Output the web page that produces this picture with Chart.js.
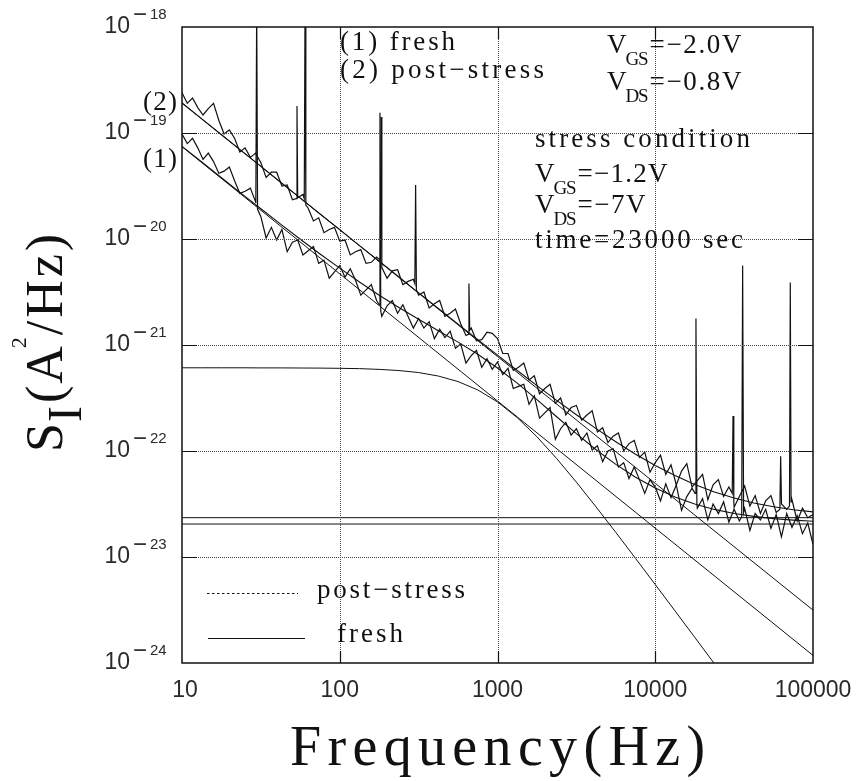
<!DOCTYPE html>
<html><head><meta charset="utf-8">
<script src="https://cdn.jsdelivr.net/npm/chart.js@4.4.1/dist/chart.umd.min.js"></script>
<style>html,body{margin:0;padding:0;background:#fff}</style>
</head><body>
<canvas id="c" width="862" height="781" style="display:block;width:862px;height:781px"></canvas>
<script>
// ---------------- data (log10 values) ----------------
const xTickValues = [10, 100, 1000, 10000, 100000];
const xTickLabels = ['10', '100', '1000', '10000', '100000'];
const yTickExps = [-18, -19, -20, -21, -22, -23, -24];

// measured spectra: log10(S_I) on a log-frequency grid of 30 points per decade from 10 Hz
const gridLogFStart = 1, gridPerDecade = 30;
const postLog = [
 -18.62,-18.72,-18.67,-18.76,-18.83,-18.77,-18.72,-18.88,-19.01,-18.97,
 -19.05,-19.18,-19.14,-19.23,-19.19,-19.28,-19.42,-19.37,-19.37,-19.50,
 -19.49,-19.63,-19.60,-19.58,-19.71,-19.83,-19.80,-19.94,-19.91,-19.89,
 -20.02,-20.01,-20.15,-20.12,-20.10,-20.23,-20.22,-20.17,-20.28,-20.37,
 -20.30,-20.29,-20.43,-20.40,-20.38,-20.53,-20.50,-20.65,-20.61,-20.58,
 -20.73,-20.70,-20.66,-20.80,-20.91,-20.84,-20.96,-20.95,-20.88,-20.89,
 -20.94,-21.08,-21.08,-21.24,-21.21,-21.17,-21.33,-21.29,-21.46,-21.41,
 -21.37,-21.55,-21.50,-21.66,-21.59,-21.57,-21.71,-21.66,-21.62,-21.82,
 -21.78,-21.92,-21.86,-21.83,-22.00,-21.93,-21.90,-22.06,-22.01,-22.20,
 -22.11,-22.04,-22.22,-22.13,-22.32,-22.19,-22.12,-22.34,-22.28,-22.22,
 -22.46,-22.32,-22.27,-22.43,-22.34,-22.53,-22.43,-22.33,-22.52,-22.42,
 -22.59,-22.47,-22.42,-22.58,-22.47,-22.55,-22.46,-22.66,-22.54,-22.63,
 -22.60];
const freshLog = [
 -19.01,-19.10,-19.05,-19.14,-19.25,-19.19,-19.27,-19.38,-19.36,-19.32,
 -19.45,-19.57,-19.55,-19.52,-19.65,-19.79,-19.99,-19.89,-20.01,-19.91,
 -20.12,-20.03,-20.01,-20.15,-20.11,-20.07,-20.23,-20.20,-20.37,-20.31,
 -20.25,-20.36,-20.28,-20.39,-20.53,-20.48,-20.43,-20.58,-20.73,-20.63,
 -20.58,-20.70,-20.62,-20.73,-20.84,-20.75,-20.84,-20.78,-20.94,-20.85,
 -20.93,-20.87,-21.03,-20.99,-21.17,-21.10,-21.05,-21.21,-21.13,-21.23,
 -21.16,-21.28,-21.22,-21.41,-21.39,-21.37,-21.56,-21.48,-21.69,-21.64,
 -21.59,-21.89,-21.79,-21.73,-21.85,-21.79,-21.90,-21.83,-21.99,-21.95,
 -22.10,-22.00,-21.98,-22.15,-22.11,-22.26,-22.15,-22.27,-22.40,-22.27,
 -22.34,-22.47,-22.31,-22.44,-22.32,-22.56,-22.43,-22.35,-22.54,-22.45,
 -22.65,-22.50,-22.59,-22.48,-22.67,-22.55,-22.66,-22.54,-22.75,-22.59,
 -22.65,-22.55,-22.73,-22.60,-22.81,-22.59,-22.72,-22.61,-22.78,-22.68,
 -22.88];
// narrow interference spikes: [log10 f, log10 S]
const freshSpikes = [
 [1.468,-19.66],[1.4735,-17.80],[1.479,-19.72],
 [2.250,-20.62],[2.255,-18.81],[2.260,-20.68],
 [4.252,-22.40],[4.258,-20.75],[4.264,-22.50],
 [4.548,-22.62],[4.554,-20.25],[4.560,-22.58]];
const postSpikes = [
 [1.724,-19.62],[1.729,-18.745],[1.734,-19.61],
 [1.775,-19.62],[1.780,-17.80],[1.785,-19.68],
 [2.257,-20.20],[2.262,-18.85],[2.267,-20.27],
 [2.476,-20.42],[2.481,-19.49],[2.486,-20.48],
 [2.814,-20.90],[2.819,-20.42],[2.824,-20.86],
 [4.488,-22.40],[4.493,-21.67],[4.498,-22.48],
 [4.790,-22.55],[4.795,-22.05],[4.800,-22.50],
 [4.851,-22.52],[4.856,-20.41],[4.861,-22.48]];

// fitted curves, sampled every 1/8 decade from 10 Hz
const fitStep = 0.125;
const fit1Log = [-19.126,-19.274,-19.422,-19.569,-19.715,-19.860,-20.002,-20.141,
 -20.275,-20.406,-20.531,-20.646,-20.757,-20.865,-20.973,-21.088,
 -21.217,-21.360,-21.515,-21.677,-21.836,-21.988,-22.126,-22.247,
 -22.350,-22.434,-22.500,-22.551,-22.589,-22.617,-22.638,-22.652,-22.663];
const fit2Log = [-18.717,-18.867,-19.016,-19.166,-19.315,-19.465,-19.614,-19.764,
 -19.912,-20.062,-20.210,-20.359,-20.508,-20.656,-20.803,-20.950,
 -21.096,-21.241,-21.383,-21.522,-21.658,-21.789,-21.913,-22.030,
 -22.136,-22.232,-22.315,-22.386,-22.444,-22.490,-22.526,-22.554,-22.574];
const lorentzLog = [-21.215,-21.215,-21.215,-21.215,-21.216,-21.216,-21.217,-21.218,
 -21.220,-21.223,-21.230,-21.241,-21.260,-21.293,-21.345,-21.424,
 -21.537,-21.685,-21.866,-22.071,-22.294,-22.528,-22.768,-23.013,
 -23.260,-23.508,-23.757,-24.007,-24.256];
// straight 1/f^gamma components [log10 f, log10 S] at the two ends
const flickerPost = [[1, -18.717], [5, -23.501]];
const flickerFresh = [[1, -19.129], [5, -23.928]];
// white-noise levels
const whitePost = [[1, -22.629], [5, -22.629]];
const whiteFresh = [[1, -22.689], [5, -22.689]];

// ---------------- build ----------------
const P = v => Math.pow(10, v);
const gridPts = arr => arr.map((v, i) => ({x: P(gridLogFStart + i / gridPerDecade), y: P(v)}));
const pairPts = arr => arr.map(([lf, v]) => ({x: P(lf), y: P(v)}));
const withSpikes = (arr, sp) => gridPts(arr).concat(pairPts(sp)).sort((a, b) => a.x - b.x);
const fitPts = arr => arr.map((v, i) => ({x: P(1 + i * fitStep), y: P(v)}));

const line = (data, w) => ({data, showLine: true, borderColor: '#111', borderWidth: w,
  pointRadius: 0, fill: false, tension: 0});

const SERIF = '"Liberation Serif", "DejaVu Serif", serif';
const SANS = '"Liberation Sans", Arial, sans-serif';

function spaced(ctx, text, x, y, width) {
  ctx.letterSpacing = '0px';
  const n = [...text].length;
  const w = ctx.measureText(text).width;
  if (width && n > 1) ctx.letterSpacing = ((width - w) / (n - 1)).toFixed(2) + 'px';
  ctx.fillText(text, x, y);
  ctx.letterSpacing = '0px';
}

function vLabel(ctx, x, y, sub, rest, restWidth) {
  ctx.font = '27px ' + SERIF;
  ctx.fillText('V', x, y);
  const vw = ctx.measureText('V').width;
  ctx.font = '19px ' + SERIF;
  spaced(ctx, sub, x + vw - 1, y + 12, 23);
  ctx.font = '27px ' + SERIF;
  spaced(ctx, rest, x + vw + 23, y, restWidth);
}

const decor = {
  id: 'decor',
  afterDraw(chart) {
    const ctx = chart.ctx, a = chart.chartArea;
    const xs = chart.scales.x, ys = chart.scales.y;
    ctx.save();
    // dotted decade grid
    ctx.strokeStyle = '#4a4a4a';
    ctx.lineWidth = 1;
    ctx.setLineDash([1, 1]);
    xTickValues.slice(1, -1).forEach(v => {
      const x = Math.round(xs.getPixelForValue(v)) + 0.5;
      ctx.beginPath(); ctx.moveTo(x, a.top); ctx.lineTo(x, a.bottom); ctx.stroke();
    });
    yTickExps.slice(1, -1).forEach(e => {
      const y = Math.round(ys.getPixelForValue(P(e))) + 0.5;
      ctx.beginPath(); ctx.moveTo(a.left, y); ctx.lineTo(a.right, y); ctx.stroke();
    });
    ctx.setLineDash([]);

    ctx.fillStyle = '#111';
    ctx.strokeStyle = '#111';
    // frame
    ctx.lineWidth = 1.5;
    ctx.strokeRect(a.left, a.top, a.right - a.left, a.bottom - a.top);
    // inner ticks
    ctx.lineWidth = 1.2;
    ctx.beginPath();
    yTickExps.slice(1, -1).forEach(e => {
      const y = Math.round(ys.getPixelForValue(P(e))) + 0.5;
      ctx.moveTo(a.left, y); ctx.lineTo(a.left + 15, y);
      ctx.moveTo(a.right, y); ctx.lineTo(a.right - 15, y);
    });
    xTickValues.slice(1, -1).forEach(v => {
      const x = Math.round(xs.getPixelForValue(v)) + 0.5;
      ctx.moveTo(x, a.bottom); ctx.lineTo(x, a.bottom - 12);
      ctx.moveTo(x, a.top); ctx.lineTo(x, a.top + 12);
    });
    ctx.stroke();

    // y tick labels 10^-n
    ctx.fillStyle = '#2a2a2a';
    yTickExps.forEach(e => {
      const y = ys.getPixelForValue(P(e));
      ctx.font = '23px ' + SANS;
      ctx.textAlign = 'right'; ctx.textBaseline = 'alphabetic';
      ctx.fillText('10', 130, y + 6);
      ctx.textAlign = 'left';
      ctx.font = '24px ' + SANS;
      ctx.fillText('\u2212', 133, y - 5);
      ctx.font = '15px ' + SANS;
      ctx.fillText(String(-e), 150, y - 8);
    });
    // x tick labels
    ctx.font = '23px ' + SANS;
    ctx.textAlign = 'center'; ctx.textBaseline = 'alphabetic';
    xTickValues.forEach((v, i) => {
      ctx.fillText(xTickLabels[i], xs.getPixelForValue(v) + (i === 0 ? 3 : 0), 697);
    });

    ctx.fillStyle = '#111';
    // x title
    ctx.font = '56px ' + SERIF;
    ctx.textAlign = 'left';
    spaced(ctx, 'Frequency(Hz)', 290, 765, 415);

    // y title (rotated)
    ctx.save();
    ctx.translate(62, 452);
    ctx.rotate(-Math.PI / 2);
    ctx.textAlign = 'left'; ctx.textBaseline = 'alphabetic';
    let tx = 0;
    ctx.font = '52px ' + SERIF;
    ctx.fillText('S', tx, 0); tx += ctx.measureText('S').width + 1;
    ctx.font = '48px ' + SERIF;
    ctx.fillText('I', tx, 19); tx += ctx.measureText('I').width + 3;
    ctx.font = '52px ' + SERIF;
    ctx.fillText('(', tx, 0); tx += ctx.measureText('(').width + 2;
    ctx.fillText('A', tx, 0); tx += ctx.measureText('A').width + 1;
    ctx.font = '22px ' + SERIF;
    ctx.fillText('2', tx - 3, -36); tx += ctx.measureText('2').width - 1;
    ctx.font = '52px ' + SERIF;
    ['/', 'H', 'z', ')'].forEach(c => { ctx.fillText(c, tx, 0); tx += ctx.measureText(c).width + 3; });
    ctx.restore();

    // annotations
    ctx.textAlign = 'left'; ctx.textBaseline = 'alphabetic';
    ctx.font = '27px ' + SERIF;
    spaced(ctx, '(1) fresh', 340, 50, 115);
    spaced(ctx, '(2) post\u2212stress', 340, 78, 204);
    spaced(ctx, 'stress condition', 535, 147, 215);
    spaced(ctx, 'time=23000 sec', 535, 248, 208);
    vLabel(ctx, 607, 53, 'GS', '=\u22122.0V', 92);
    vLabel(ctx, 607, 90, 'DS', '=\u22120.8V', 92);
    vLabel(ctx, 535, 182, 'GS', '=\u22121.2V', 90);
    vLabel(ctx, 535, 213, 'DS', '=\u22127V', 68);
    ctx.font = '27px ' + SERIF;
    spaced(ctx, '(2)', 143, 110, 34);
    spaced(ctx, '(1)', 143, 167, 34);

    // legend
    ctx.lineWidth = 1;
    ctx.setLineDash([2.5, 2.5]);
    ctx.beginPath(); ctx.moveTo(207, 593.5); ctx.lineTo(298, 593.5); ctx.stroke();
    ctx.setLineDash([]);
    ctx.beginPath(); ctx.moveTo(208, 638.5); ctx.lineTo(305, 638.5); ctx.stroke();
    ctx.font = '27px ' + SERIF;
    spaced(ctx, 'post\u2212stress', 317, 598, 148);
    spaced(ctx, 'fresh', 337, 642, 66);
    ctx.restore();
  }
};

new Chart(document.getElementById('c'), {
  type: 'scatter',
  data: {
    datasets: [
      line(withSpikes(postLog, postSpikes), 1.2),
      line(withSpikes(freshLog, freshSpikes), 1.2),
      line(fitPts(fit2Log), 1.1),
      line(fitPts(fit1Log), 1.1),
      line(fitPts(lorentzLog), 1),
      line(pairPts(flickerPost), 1),
      line(pairPts(flickerFresh), 1),
      line(pairPts(whitePost), 1),
      line(pairPts(whiteFresh), 1)
    ]
  },
  options: {
    responsive: false,
    animation: false,
    devicePixelRatio: 1,
    layout: {padding: {left: 0, right: 49, top: 27, bottom: 0}},
    plugins: {legend: {display: false}, tooltip: {enabled: false}},
    scales: {
      x: {
        type: 'logarithmic', min: 10, max: 100000, position: 'bottom',
        afterBuildTicks: s => { s.ticks = xTickValues.slice(1, -1).map(v => ({value: v})); },
        afterFit: s => { s.height = 118; },
        ticks: {display: false},
        grid: {display: false},
        border: {display: false}
      },
      y: {
        type: 'logarithmic', min: 1e-24, max: 1e-18,
        afterBuildTicks: s => { s.ticks = yTickExps.slice(1, -1).map(e => ({value: P(e)})); },
        afterFit: s => { s.width = 182; },
        ticks: {display: false},
        grid: {display: false},
        border: {display: false}
      }
    }
  },
  plugins: [decor]
});
</script>
</body></html>
